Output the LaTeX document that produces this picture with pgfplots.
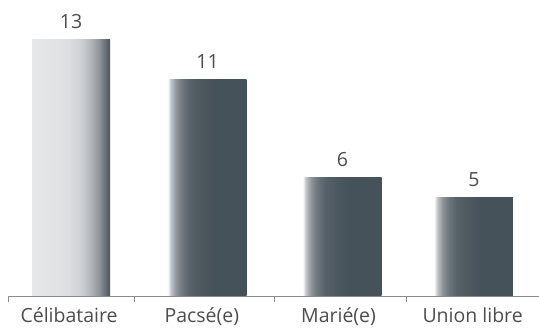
\documentclass[border=0pt]{standalone}
\usepackage{pgfplots}
\pgfplotsset{compat=1.18}
\usepackage{fontspec}
\setmainfont{Open Sans}
\definecolor{aa}{HTML}{E6E7E9}
\definecolor{ab}{HTML}{E2E3E5}
\definecolor{ac}{HTML}{DCDEE0}
\definecolor{ad}{HTML}{CDD0D3}
\definecolor{ae}{HTML}{B0B4B8}
\definecolor{af}{HTML}{8E949A}
\definecolor{ag}{HTML}{6A737A}
\definecolor{ah}{HTML}{4A555D}
\definecolor{bardark}{HTML}{46525A}
\definecolor{ba}{HTML}{EEEFF0}
\definecolor{bb}{HTML}{C0C4C8}
\definecolor{bc}{HTML}{8C9298}
\definecolor{bd}{HTML}{6C757C}
\definecolor{be}{HTML}{58626A}
\definecolor{bf}{HTML}{4E5960}
\definecolor{axisgray}{HTML}{8C8C8C}
\definecolor{textgray}{HTML}{4D4D4D}
\pgfdeclarehorizontalshading{barone}{100bp}{color(0bp)=(aa); color(25bp)=(aa); color(40bp)=(ab); color(48.5bp)=(ac); color(56.5bp)=(ad); color(63bp)=(ae); color(68bp)=(af); color(71.5bp)=(ag); color(75bp)=(ah); color(100bp)=(ah)}
\pgfdeclarehorizontalshading{bartwo}{100bp}{color(0bp)=(ba); color(25bp)=(ba); color(26.5bp)=(bb); color(30bp)=(bc); color(34bp)=(bd); color(38.5bp)=(be); color(45bp)=(bf); color(55bp)=(bardark); color(100bp)=(bardark)}
\pgfplotsset{mybar/.style={ybar, bar width=78pt, bar shift=0pt, draw=none, shade, shading=#1}}
\begin{document}
\begin{tikzpicture}
\begin{axis}[
  width=531pt, height=296pt, scale only axis,
  xmin=-0.5, xmax=3.5, ymin=0, ymax=15.03,
  axis y line=none, axis x line*=bottom,
  x axis line style={-, draw=axisgray, line width=0.8pt},
  xtick={-0.04,0.96,1.99,3.0},
  xticklabels={Célibataire,Pacsé(e),Marié(e),Union libre},
  minor xtick={-0.5,0.45,1.51,2.5,3.5},
  major tick length=0pt, minor tick length=6pt, tick align=outside,
  minor tick style={draw=axisgray, line width=0.8pt},
  xticklabel style={anchor=base, yshift=-27pt, text=textgray, font=\fontsize{19.5}{21}\selectfont},
  /pgf/number format/assume math mode=true,
  nodes near coords,
  nodes near coords style={anchor=south, inner sep=0pt, yshift=11pt, text=textgray, font=\fontsize{19.5}{21}\selectfont},
  clip=false,
]
\addplot[mybar=barone] coordinates {(-0.025,13)};
\addplot[mybar=bartwo] coordinates {(1.003,11)};
\addplot[mybar=bartwo] coordinates {(2.02,6)};
\addplot[mybar=bartwo] coordinates {(3.01,5)};
\end{axis}
\pgfresetboundingbox
\path[use as bounding box] (-8pt,-35pt) rectangle (531pt,296pt);
\end{tikzpicture}
\end{document}
